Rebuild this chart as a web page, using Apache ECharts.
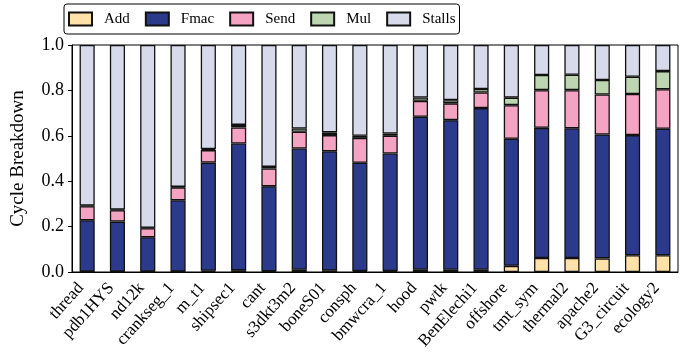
<!DOCTYPE html>
<html>
<head>
<meta charset="utf-8">
<script src="https://cdn.jsdelivr.net/npm/echarts@6/dist/echarts.min.js"></script>
<style>
  html, body { margin: 0; padding: 0; background: #fff; }
  #chart { width: 691px; height: 354px; }
</style>
</head>
<body>
<div id="chart"></div>
<script>
// Per-matrix cycle breakdown (fractions of total cycles)
const matrices = ['thread', 'pdb1HYS', 'nd12k', 'crankseg_1', 'm_t1', 'shipsec1', 'cant',
  's3dkt3m2', 'boneS01', 'consph', 'bmwcra_1', 'hood', 'pwtk', 'BenElechi1', 'offshore',
  'tmt_sym', 'thermal2', 'apache2', 'G3_circuit', 'ecology2'];

const addFrac = [0.002, 0.002, 0.002, 0.002, 0.005, 0.008, 0.003, 0.010, 0.006, 0.004,
  0.004, 0.010, 0.010, 0.010, 0.027, 0.062, 0.062, 0.060, 0.074, 0.074];
const fmacFrac = [0.226, 0.220, 0.151, 0.314, 0.477, 0.558, 0.375, 0.534, 0.526, 0.477,
  0.518, 0.674, 0.659, 0.712, 0.560, 0.573, 0.571, 0.546, 0.529, 0.557];
const sendFrac = [0.062, 0.050, 0.040, 0.056, 0.055, 0.071, 0.078, 0.074, 0.071, 0.110,
  0.078, 0.070, 0.074, 0.069, 0.148, 0.166, 0.168, 0.176, 0.181, 0.174];
const mulFrac = [0.003, 0.003, 0.002, 0.003, 0.005, 0.011, 0.007, 0.014, 0.012, 0.009,
  0.010, 0.015, 0.014, 0.015, 0.033, 0.067, 0.068, 0.064, 0.076, 0.080];
const stallFrac = [0.707, 0.725, 0.805, 0.625, 0.458, 0.352, 0.537, 0.368, 0.385, 0.400,
  0.390, 0.231, 0.243, 0.194, 0.232, 0.132, 0.131, 0.154, 0.140, 0.115];

const yTicks = [0, 0.2, 0.4, 0.6, 0.8, 1.0];

const FONT = '"Liberation Serif", "DejaVu Serif", serif';

const seriesDefs = [
  { name: 'Add', data: addFrac, color: '#FFE1A9' },
  { name: 'Fmac', data: fmacFrac, color: '#2C3A8B' },
  { name: 'Send', data: sendFrac, color: '#F5A3C3' },
  { name: 'Mul', data: mulFrac, color: '#BDD6B1' },
  { name: 'Stalls', data: stallFrac, color: '#D7DAEB' }
];

const chart = echarts.init(document.getElementById('chart'), null, { renderer: 'canvas' });

chart.setOption({
  animation: false,
  backgroundColor: '#fff',
  textStyle: { fontFamily: FONT, color: '#000' },
  legend: {
    left: 64,
    top: 4,
    padding: [6, 4, 6, 4],
    itemGap: 15,
    itemWidth: 23,
    itemHeight: 13,
    borderColor: '#000',
    borderWidth: 1,
    borderRadius: 3,
    icon: 'rect',
    textStyle: { fontFamily: FONT, fontSize: 15, color: '#000', lineHeight: 18, padding: [0, 0, 0, 7] },
    data: seriesDefs.map(s => s.name)
  },
  grid: {
    left: 72,
    right: 13,
    top: 45,
    bottom: 82,
    show: true,
    borderColor: '#000',
    borderWidth: 1
  },
  xAxis: {
    type: 'category',
    data: matrices,
    axisLine: { lineStyle: { color: '#000', width: 1 } },
    axisTick: { alignWithLabel: true, length: 4, lineStyle: { color: '#000' } },
    axisLabel: {
      rotate: 48, fontFamily: FONT, fontSize: 17, lineHeight: 17, color: '#000',
      verticalAlign: 'bottom', align: 'right', margin: 19, interval: 0
    }
  },
  yAxis: {
    type: 'value',
    min: 0,
    max: 1,
    interval: 0.2,
    name: 'Cycle Breakdown',
    nameLocation: 'middle',
    nameGap: 44,
    nameTextStyle: { fontFamily: FONT, fontSize: 19, color: '#000' },
    axisLine: { show: true, lineStyle: { color: '#000', width: 1 } },
    axisTick: { show: true, length: 4, lineStyle: { color: '#000' } },
    splitLine: { show: false },
    axisLabel: {
      fontFamily: FONT, fontSize: 18, color: '#000', margin: 8,
      formatter: v => (yTicks.some(t => Math.abs(t - v) < 1e-9) ? v.toFixed(1) : '')
    }
  },
  series: seriesDefs.map(s => ({
    name: s.name,
    type: 'bar',
    stack: 'total',
    barWidth: '50%',
    data: s.data,
    itemStyle: { color: s.color, borderColor: '#111', borderWidth: 1.3 }
  }))
});
</script>
</body>
</html>
